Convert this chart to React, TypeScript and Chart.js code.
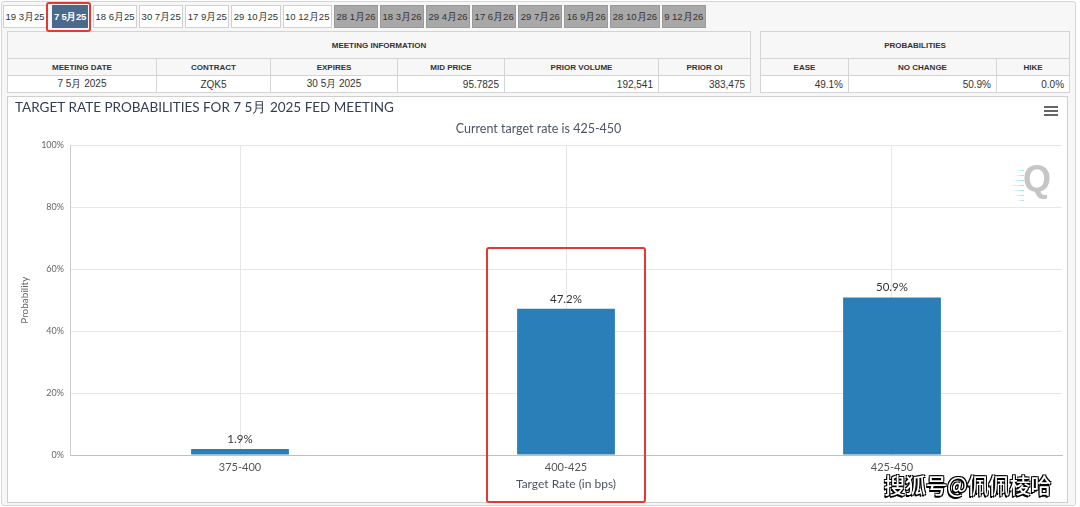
import React, { useEffect, useRef } from "react";
import { Chart, registerables } from "chart.js";

Chart.register(...registerables);

// ---------- data ----------
const categories = ["375-400", "400-425", "425-450"];
const probabilities = [1.9, 47.2, 50.9];
const yTicks = [0, 20, 40, 60, 80, 100];

const tabLabels = [
  "19 3月25", "7 5月25", "18 6月25", "30 7月25", "17 9月25", "29 10月25", "10 12月25",
  "28 1月26", "18 3月26", "29 4月26", "17 6月26", "29 7月26", "16 9月26", "28 10月26", "9 12月26",
];
const selectedTab = "7 5月25";
const firstGrayTab = 7;

const meetingHeaders = ["MEETING DATE", "CONTRACT", "EXPIRES", "MID PRICE", "PRIOR VOLUME", "PRIOR OI"];
const meetingValues = ["7 5月 2025", "ZQK5", "30 5月 2025", "95.7825", "192,541", "383,475"];
const meetingAlign = ["center", "center", "center", "right", "right", "right"];
const probHeaders = ["EASE", "NO CHANGE", "HIKE"];
const probValues = ["49.1%", "50.9%", "0.0%"];

const chartTitle = "TARGET RATE PROBABILITIES FOR 7 5月 2025 FED MEETING";
const chartSubtitle = "Current target rate is 425-450";
const xTitle = "Target Rate (in bps)";
const yTitle = "Probability";
const watermark = "搜狐号@佩佩棱哈";

// ---------- layout ----------
const meetingCols = [149, 114, 127, 107, 154, 92];
const probCols = [88, 148, 73];
const CHART_FONT = "Lato, 'Open Sans', sans-serif";
const TABLE_FONT = "'Liberation Sans', Arial, sans-serif";

const valueLabels = {
  id: "valueLabels",
  afterDatasetsDraw(chart: any) {
    const ctx = chart.ctx;
    const meta = chart.getDatasetMeta(0);
    ctx.save();
    ctx.font = `11.5px ${CHART_FONT}`;
    ctx.fillStyle = "#333333";
    ctx.textAlign = "center";
    ctx.textBaseline = "middle";
    meta.data.forEach((bar: any, i: number) => {
      ctx.fillText(probabilities[i].toFixed(1) + "%", bar.x, bar.y - 10);
    });
    ctx.restore();
  },
};

function ChartCanvas() {
  const ref = useRef<HTMLCanvasElement | null>(null);
  useEffect(() => {
    if (!ref.current) return;
    const chart = new Chart(ref.current, {
      type: "bar",
      data: {
        datasets: [
          {
            data: categories.map((_, i) => ({ x: i, y: probabilities[i] })),
            backgroundColor: "#2b7fb8",
            borderWidth: 0,
            categoryPercentage: 1,
            barPercentage: 0.3,
          },
        ],
      },
      options: {
        responsive: false,
        animation: false,
        devicePixelRatio: 1,
        layout: { padding: { left: 8, right: 6, top: 0, bottom: 0 } },
        plugins: {
          legend: { display: false },
          tooltip: { enabled: false },
          title: {
            display: true,
            text: chartTitle,
            align: "start",
            color: "#333e52",
            font: { family: CHART_FONT, size: 13.5, weight: "normal" },
            padding: { top: 3.9, bottom: 5.2 },
          },
          subtitle: {
            display: true,
            text: chartSubtitle,
            color: "#4a5568",
            font: { family: CHART_FONT, size: 12.5 },
            padding: { top: 0, bottom: 9.1 },
          },
        },
        scales: {
          x: {
            type: "linear",
            offset: false,
            min: -0.5215,
            max: 2.5215,
            afterBuildTicks: (axis: any) => {
              axis.ticks = categories.map((_, i) => ({ value: i }));
            },
            afterFit: (s: any) => {
              s.height = 48;
            },
            grid: { color: "#e6e6e6", drawTicks: false, offset: false },
            border: { color: "#c0c0c0" },
            ticks: {
              padding: 6,
              autoSkip: false,
              maxRotation: 0,
              color: "#555555",
              font: { family: CHART_FONT, size: 11 },
              callback: (v: any) => categories[Number(v)] ?? "",
            },
            title: {
              display: true,
              text: xTitle,
              color: "#4a5568",
              font: { family: CHART_FONT, size: 12 },
              padding: { top: 0, bottom: 11.8 },
            },
          },
          y: {
            min: 0,
            max: 100,
            afterBuildTicks: (axis: any) => {
              axis.ticks = yTicks.map((v) => ({ value: v }));
            },
            afterFit: (s: any) => {
              s.width = 55;
            },
            grid: { color: "#e6e6e6", drawTicks: false },
            border: { color: "#cccccc" },
            ticks: {
              padding: 6,
              color: "#666666",
              font: { family: CHART_FONT, size: 9 },
              callback: (v: any) => v + "%",
            },
            title: {
              display: true,
              text: yTitle,
              color: "#666666",
              font: { family: CHART_FONT, size: 10 },
              padding: { top: 4 },
            },
          },
        },
      },
      plugins: [valueLabels],
    } as any);
    return () => chart.destroy();
  }, []);
  return (
    <canvas
      ref={ref}
      width={1061}
      height={407}
      style={{ position: "absolute", left: 7, top: 96, width: 1061, height: 407 }}
    />
  );
}

const cellBase: React.CSSProperties = {
  border: "1px solid #d4d4d4",
  padding: "0 5px",
  color: "#333",
  whiteSpace: "nowrap",
  overflow: "hidden",
};

function InfoTable(props: {
  left: number;
  title: string;
  cols: number[];
  headers: string[];
  values: string[];
  align: string[];
}) {
  const width = props.cols.reduce((a, b) => a + b, 0);
  return (
    <table
      style={{
        position: "absolute",
        left: props.left,
        top: 31,
        width,
        borderCollapse: "collapse",
        tableLayout: "fixed",
        fontFamily: TABLE_FONT,
        background: "#fff",
      }}
    >
      <colgroup>
        {props.cols.map((w, i) => (
          <col key={i} style={{ width: w }} />
        ))}
      </colgroup>
      <tbody>
        <tr style={{ height: 27, background: "#f7f7f7" }}>
          <td colSpan={props.cols.length} style={{ ...cellBase, textAlign: "center", fontWeight: "bold", fontSize: 8 }}>
            {props.title}
          </td>
        </tr>
        <tr style={{ height: 17, background: "#f7f7f7" }}>
          {props.headers.map((h, i) => (
            <td key={i} style={{ ...cellBase, textAlign: "center", fontWeight: "bold", fontSize: 8 }}>
              {h}
            </td>
          ))}
        </tr>
        <tr style={{ height: 17, background: "#fff" }}>
          {props.values.map((v, i) => (
            <td key={i} style={{ ...cellBase, textAlign: props.align[i] as any, fontSize: 10 }}>
              {v}
            </td>
          ))}
        </tr>
      </tbody>
    </table>
  );
}

export default function App() {
  return (
    <div
      style={{
        position: "absolute",
        left: 0,
        top: 0,
        width: 1080,
        height: 507,
        background: "#ffffff",
        overflow: "hidden",
      }}
    >
      {/* outer frame */}
      <div
        style={{
          position: "absolute",
          left: 1,
          top: 1,
          width: 1075,
          height: 505,
          boxSizing: "border-box",
          border: "1px solid #d6d6d6",
          borderRadius: 3,
          background: "#f7f7f7",
        }}
      />
      {/* tabs */}
      <div style={{ position: "absolute", left: 3, top: 5, display: "flex", gap: 2, fontFamily: TABLE_FONT }}>
        {tabLabels.map((t, i) => {
          const sel = t === selectedTab;
          const gray = i >= firstGrayTab;
          return (
            <div
              key={t}
              style={{
                height: 23,
                lineHeight: "21px",
                boxSizing: "border-box",
                padding: sel ? "0 1px" : "0 1.5px",
                marginLeft: sel ? 3 : 0,
                marginRight: sel ? 3 : 0,
                fontSize: 9.5,
                fontWeight: sel ? "bold" : "normal",
                letterSpacing: sel ? -0.3 : 0,
                border: "1px solid " + (sel ? "#4a6a8c" : gray ? "#9a9a9a" : "#d0d0d0"),
                background: sel ? "#4a6a8c" : gray ? "#a8a8a8" : "#ffffff",
                color: sel ? "#ffffff" : "#333333",
                whiteSpace: "nowrap",
              }}
            >
              {t}
            </div>
          );
        })}
      </div>

      <InfoTable
        left={7}
        title="MEETING INFORMATION"
        cols={meetingCols}
        headers={meetingHeaders}
        values={meetingValues}
        align={meetingAlign}
      />
      <InfoTable
        left={760}
        title="PROBABILITIES"
        cols={probCols}
        headers={probHeaders}
        values={probValues}
        align={["right", "right", "right"]}
      />

      {/* chart panel */}
      <div
        style={{
          position: "absolute",
          left: 7,
          top: 96,
          width: 1061,
          height: 407,
          boxSizing: "border-box",
          border: "1px solid #cfcfcf",
          background: "#ffffff",
        }}
      />
      <ChartCanvas />

      {/* menu icon */}
      {[0, 1, 2].map((k) => (
        <div
          key={k}
          style={{ position: "absolute", left: 1044, top: 106 + k * 4, width: 14, height: 2, background: "#666" }}
        />
      ))}

      {/* Q logo */}
      {[0, 1, 2, 3, 4, 5, 6].map((k) => (
        <div
          key={"s" + k}
          style={{
            position: "absolute",
            left: 1010 + Math.abs(3 - k) * 2,
            top: 170 + k * 5,
            width: 14 - Math.abs(3 - k) * 2,
            height: 1,
            background: "linear-gradient(to right, rgba(120,220,230,0), rgba(120,220,230,0.8))",
          }}
        />
      ))}
      <div
        style={{
          position: "absolute",
          left: 1023,
          top: 159,
          fontFamily: "'Liberation Sans', Arial, sans-serif",
          fontWeight: "bold",
          fontSize: 36,
          lineHeight: "40px",
          color: "#c6c6c6",
        }}
      >
        Q
      </div>

      {/* annotations */}
      <div
        style={{
          position: "absolute",
          left: 46,
          top: 2,
          width: 45,
          height: 30,
          boxSizing: "border-box",
          border: "2px solid #e23a32",
          borderRadius: 3,
        }}
      />
      <div
        style={{
          position: "absolute",
          left: 486,
          top: 247,
          width: 160,
          height: 256,
          boxSizing: "border-box",
          border: "2px solid #e23a32",
          borderRadius: 3,
        }}
      />

      {/* watermark */}
      <div
        style={{
          position: "absolute",
          left: 884,
          top: 471,
          fontFamily: "'Noto Sans CJK SC', sans-serif",
          fontSize: 21,
          lineHeight: "26px",
          fontWeight: 500,
          color: "#ffffff",
          whiteSpace: "nowrap",
          textShadow:
            "1px 1px 0 #000, -1px -1px 0 #000, 1px -1px 0 #000, -1px 1px 0 #000, -1px 1.5px 0 #000",
        }}
      >
        {watermark}
      </div>
    </div>
  );
}
